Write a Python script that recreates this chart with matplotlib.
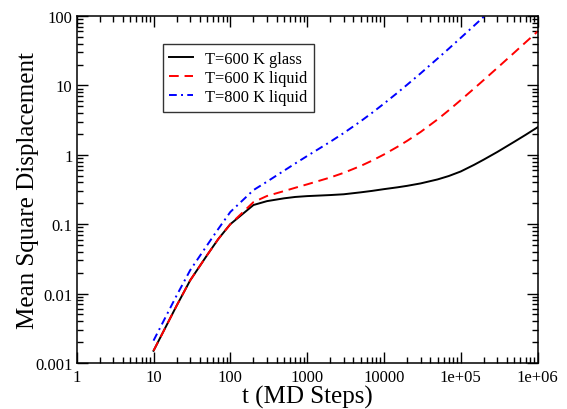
import matplotlib
matplotlib.use("Agg")
import matplotlib.pyplot as plt
from matplotlib.ticker import LogLocator, FixedLocator, FixedFormatter, NullFormatter

# ---- data ----
t = [10, 20, 30, 50, 70, 100, 200, 300, 500, 700, 1000, 2000, 3000, 5000, 7000,
     1e4, 1.5e4, 2e4, 3e4, 5e4, 7e4, 1e5, 1.5e5, 2e5, 3e5, 5e5, 7e5, 1e6]
msd_glass_600 = [0.0015, 0.0067, 0.0155, 0.036, 0.0615, 0.10, 0.189, 0.215, 0.236, 0.247,
                 0.254, 0.263, 0.27, 0.288, 0.302, 0.32, 0.340, 0.357, 0.387, 0.442,
                 0.495, 0.575, 0.719, 0.854, 1.10, 1.545, 1.94, 2.49]
msd_liquid_600 = [0.0015, 0.0067, 0.0155, 0.036, 0.0615, 0.10, 0.208, 0.255, 0.30, 0.335,
                  0.375, 0.471, 0.55, 0.692, 0.824, 1.01, 1.304, 1.585, 2.13, 3.24,
                  4.39, 6.14, 9.06, 12.0, 17.9, 29.8, 41.8, 59.7]
msd_liquid_800 = [0.0021, 0.0094, 0.0217, 0.050, 0.086, 0.15, 0.31, 0.41, 0.59, 0.75,
                  0.96, 1.54, 2.06, 3.05, 4.02, 5.46, 7.83, 10.2, 14.9, 24.4,
                  33.9, 48.4, 72.9, 97.8, 148.0, 252.0, 359.0, 522.0]

labels = ["T=600 K glass", "T=600 K liquid", "T=800 K liquid"]
xticks = [1, 10, 100, 1000, 10000, 1e5, 1e6]
xticklabels = ["1", "10", "100", "1000", "10000", "1e+05", "1e+06"]
yticks = [0.001, 0.01, 0.1, 1, 10, 100]
yticklabels = ["0.001", "0.01", "0.1", "1", "10", "100"]

plt.rcParams['font.family'] = ['Liberation Serif', 'DejaVu Serif']

fig = plt.figure(figsize=(5.67, 4.10), dpi=100)
ax = fig.add_axes([0.1353, 0.1122, 0.8127, 0.8463])

ax.plot(t, msd_glass_600, color='black', lw=1.4, ls='-', label=labels[0])
ax.plot(t, msd_liquid_600, color='red', lw=1.4, ls=(0, (5, 3)), label=labels[1])
ax.plot(t, msd_liquid_800, color='blue', lw=1.4, ls=(0, (4, 2.2, 1, 2.2)), label=labels[2])

ax.set_xscale('log')
ax.set_yscale('log')
ax.set_xlim(1, 1e6)
ax.set_ylim(0.001, 100)

ax.xaxis.set_major_locator(FixedLocator(xticks))
ax.xaxis.set_major_formatter(FixedFormatter(xticklabels))
ax.yaxis.set_major_locator(FixedLocator(yticks))
ax.yaxis.set_major_formatter(FixedFormatter(yticklabels))
for axis in (ax.xaxis, ax.yaxis):
    axis.set_minor_locator(LogLocator(base=10, subs=range(2, 10), numticks=20))
    axis.set_minor_formatter(NullFormatter())

ax.tick_params(which='both', direction='in', top=True, right=True, width=1.0,
               labelsize=12, colors='black')
ax.tick_params(which='major', length=8)
ax.tick_params(axis='x', which='major', pad=4)
ax.tick_params(axis='y', which='major', pad=3)
ax.tick_params(which='minor', length=4.5)
for s in ax.spines.values():
    s.set_linewidth(1.1)

ax.set_xlabel("t (MD Steps)", fontsize=18, labelpad=0)
ax.set_ylabel("Mean Square Displacement", fontsize=18, labelpad=-3)

leg = ax.legend(loc='upper left', bbox_to_anchor=(0.187, 0.919), borderaxespad=0,
                fontsize=11.8, frameon=True, fancybox=False, handlelength=1.45,
                borderpad=0.4, labelspacing=0.2, handletextpad=0.75)
leg.get_frame().set_edgecolor('black')
leg.get_frame().set_linewidth(1.0)

fig.savefig("out.png", dpi=100)
